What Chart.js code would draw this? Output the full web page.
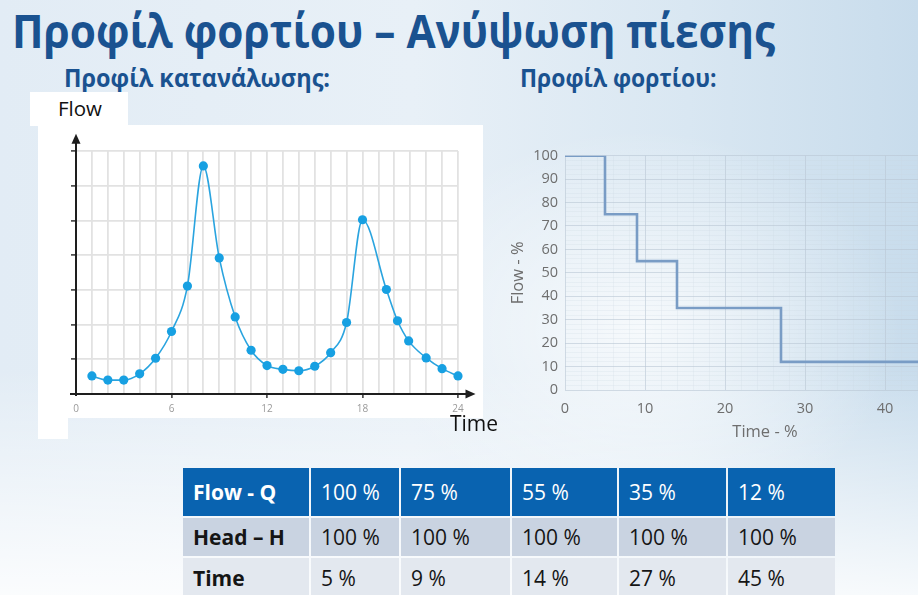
<!DOCTYPE html>
<html>
<head>
<meta charset="utf-8">
<script src="https://cdn.jsdelivr.net/npm/chart.js@4.4.1/dist/chart.umd.min.js"></script>
<style>
  html, body { margin: 0; padding: 0; }
  body {
    width: 918px; height: 595px; overflow: hidden; position: relative;
    font-family: "Open Sans", sans-serif;
    background:
      radial-gradient(ellipse 260px 200px at 640px 330px, rgba(255,255,255,0.75) 0%, rgba(255,255,255,0) 100%),
      linear-gradient(180deg, rgba(255,255,255,0) 0%, rgba(255,255,255,0) 62%, rgba(255,255,255,0.85) 100%),
      linear-gradient(90deg, #e2ecf5 0%, #e8f0f7 45%, #d9e7f2 75%, #c8dcec 100%);
  }
  .abs { position: absolute; white-space: nowrap; line-height: 1; }
  #title { left: 12px; top: 7px; font-size: 47px; font-weight: 700; color: #1a5290; transform-origin: 0 0; }
  .sub { top: 65px; font-size: 25px; font-weight: 700; color: #1a5290; transform-origin: 0 0; }
  #flowBox { position: absolute; left: 30px; top: 92px; width: 98px; height: 34px; background: #fff; }
  #panel { position: absolute; left: 38px; top: 125px; width: 445px; height: 293px; background: #fff; }
  #strip { position: absolute; left: 38px; top: 418px; width: 30px; height: 21px; background: #fff; }
  #flowLbl { left: 58px; top: 98px; font-size: 20.5px; color: #111; }
  #timeLbl { left: 450px; top: 413px; font-size: 21px; color: #111; }
  #c1 { position: absolute; left: 38px; top: 125px; }
  #c2 { position: absolute; left: 500px; top: 140px; }
  #tbl {
    position: absolute; left: 183px; top: 468px;
    display: grid; grid-template-columns: 126px 88px 109px 105px 107px 107px;
    grid-template-rows: 48px 38px 40px; gap: 2px;
    font-size: 21px;
  }
  #tbl div { display: flex; align-items: center; padding-left: 10px; white-space: nowrap; }
  #tbl .h { background: #0963b0; color: #fff; }
  #tbl .r2 { background: #c9d3e1; color: #151515; }
  #tbl .r3 { background: #e3e8ef; color: #151515; }
  #tbl .b { font-weight: 700; }
</style>
</head>
<body>
<div id="title" class="abs">Προφίλ φορτίου – Ανύψωση πίεσης</div>
<div id="sub1" class="abs sub" style="left:64px">Προφίλ κατανάλωσης:</div>
<div id="sub2" class="abs sub" style="left:520px">Προφίλ φορτίου:</div>

<div id="flowBox"></div>
<div id="panel"></div>
<div id="strip"></div>
<div id="flowLbl" class="abs">Flow</div>
<canvas id="c1" width="445" height="293"></canvas>
<div id="timeLbl" class="abs">Time</div>

<canvas id="c2" width="475" height="311"></canvas>

<div id="tbl"></div>

<script>
// consumption profile (left chart)
const hours = [1, 2, 3, 4, 5, 6, 7, 8, 9, 10, 11, 12, 13, 14, 15, 16, 17, 18, 19.5, 20.2, 20.9, 22, 23, 24];
const flowProfile = [0.52, 0.40, 0.40, 0.58, 1.03, 1.80, 3.11, 6.57, 3.92, 2.22, 1.26, 0.82, 0.71, 0.67, 0.80, 1.19, 2.06, 5.02, 3.01, 2.11, 1.53, 1.04, 0.73, 0.52];
const hourLabels = [0, 6, 12, 18, 24];

// load profile (right chart + table)
const flowPct = [100, 75, 55, 35, 12];
const headPct = [100, 100, 100, 100, 100];
const timePct = [5, 9, 14, 27, 45];

Chart.defaults.font.family = "'Open Sans', sans-serif";

function fit(id, w) {
  const el = document.getElementById(id);
  el.style.transform = 'scaleX(' + (w / el.offsetWidth) + ')';
}
fit('title', 763);
fit('sub1', 266);
fit('sub2', 197);

// table
const tbl = document.getElementById('tbl');
function row(label, vals, cls) {
  const c = document.createElement('div');
  c.className = cls + ' b';
  c.textContent = label;
  tbl.appendChild(c);
  vals.forEach(v => {
    const d = document.createElement('div');
    d.className = cls;
    d.textContent = v + ' %';
    tbl.appendChild(d);
  });
}
row('Flow - Q', flowPct, 'h');
row('Head – H', headPct, 'r2');
row('Time', timePct, 'r3');

// axes with arrows for the left chart
const axisArrows = {
  id: 'axisArrows',
  beforeDatasetsDraw(chart) {
    const { ctx, scales: { x, y } } = chart;
    const x0 = x.getPixelForValue(0), y0 = y.getPixelForValue(0);
    const xEnd = x.getPixelForValue(25.1), yEnd = y.getPixelForValue(7.5);
    ctx.save();
    ctx.strokeStyle = '#1e1e1e';
    ctx.fillStyle = '#1e1e1e';
    ctx.lineWidth = 2;
    ctx.beginPath();
    ctx.moveTo(x0 - 6, y0);
    ctx.lineTo(xEnd - 8, y0);
    ctx.moveTo(x0, y0 + 2);
    ctx.lineTo(x0, yEnd + 8);
    ctx.stroke();
    ctx.beginPath();
    ctx.moveTo(xEnd, y0);
    ctx.lineTo(xEnd - 10, y0 - 4.5);
    ctx.lineTo(xEnd - 10, y0 + 4.5);
    ctx.closePath();
    ctx.fill();
    ctx.beginPath();
    ctx.moveTo(x0, yEnd);
    ctx.lineTo(x0 - 4.5, yEnd + 10);
    ctx.lineTo(x0 + 4.5, yEnd + 10);
    ctx.closePath();
    ctx.fill();
    ctx.restore();
  }
};

new Chart(document.getElementById('c1'), {
  type: 'line',
  data: {
    datasets: [{
      data: hours.map((h, i) => ({ x: h, y: flowProfile[i] })),
      borderColor: '#2aa4df',
      backgroundColor: '#17a0e2',
      borderWidth: 1.6,
      pointRadius: 4.6,
      pointBorderWidth: 0,
      cubicInterpolationMode: 'monotone',
      clip: false
    }]
  },
  options: {
    responsive: false,
    animation: false,
    layout: { padding: { top: 26, right: 25, left: 0, bottom: 0 } },
    plugins: { legend: { display: false }, tooltip: { enabled: false } },
    scales: {
      x: {
        type: 'linear', min: 0, max: 24,
        border: { display: false },
        grid: {
          color: c => (c.tick && c.tick.value === 0) ? 'rgba(0,0,0,0)' : '#e2e2e2',
          lineWidth: 1.8,
          tickLength: 4,
          tickWidth: 1.5,
          tickColor: c => (c.tick && c.tick.value > 0 && hourLabels.includes(c.tick.value)) ? '#333' : 'rgba(0,0,0,0)'
        },
        ticks: {
          stepSize: 1, autoSkip: false, maxRotation: 0, padding: 5,
          color: '#9a9a9a', font: { size: 10 },
          callback: v => hourLabels.includes(v) ? v : ''
        },
        afterFit: s => { s.height = 24; }
      },
      y: {
        min: 0, max: 7,
        border: { display: false },
        grid: {
          color: c => (c.tick && c.tick.value === 0) ? 'rgba(0,0,0,0)' : '#e2e2e2',
          lineWidth: 1.8,
          tickLength: 5,
          tickWidth: 1.5,
          tickColor: c => (c.tick && c.tick.value === 0) ? 'rgba(0,0,0,0)' : '#333'
        },
        ticks: { stepSize: 1, display: false },
        afterFit: s => { s.width = 38; }
      }
    }
  },
  plugins: [axisArrows]
});

// load profile step chart
const stepPoints = [{ x: 0, y: flowPct[0] }].concat(
  timePct.map((t, i) => ({ x: t, y: i + 1 < flowPct.length ? flowPct[i + 1] : flowPct[i] }))
);

new Chart(document.getElementById('c2'), {
  type: 'line',
  data: {
    datasets: [{
      data: stepPoints,
      stepped: true,
      borderColor: '#799cc5',
      borderWidth: 2.6,
      pointRadius: 0
    }]
  },
  options: {
    responsive: false,
    animation: false,
    layout: { padding: { top: 14, right: 8, left: 0, bottom: 0 } },
    plugins: { legend: { display: false }, tooltip: { enabled: false } },
    scales: {
      x: {
        type: 'linear', min: 0, max: 50,
        border: { display: false },
        grid: {
          drawTicks: false,
          color: c => (c.tick && c.tick.value % 10 === 0) ? 'rgba(185,198,212,0.6)' : 'rgba(200,212,224,0.22)'
        },
        ticks: {
          stepSize: 2, autoSkip: false, maxRotation: 0, padding: 10,
          color: '#6e6e6e', font: { size: 14.5 },
          callback: v => (v % 10 === 0 && v < 50) ? v : ''
        },
        title: { display: true, text: 'Time - %', color: '#6e6e6e', font: { size: 16.5 }, padding: { top: 0, bottom: 9 } },
        afterFit: s => { s.height = 61; }
      },
      y: {
        min: 0, max: 100,
        border: { display: false },
        grid: {
          drawTicks: false,
          color: c => (c.tick && c.tick.value % 10 === 0) ? 'rgba(185,198,212,0.6)' : 'rgba(200,212,224,0.22)'
        },
        ticks: {
          stepSize: 2, autoSkip: false, padding: 7,
          color: '#6e6e6e', font: { size: 14.5 },
          callback: v => v % 10 === 0 ? v : ''
        },
        title: { display: true, text: 'Flow - %', color: '#6e6e6e', font: { size: 16.5 }, padding: { top: 8, bottom: 0 } },
        afterFit: s => { s.width = 65; }
      }
    }
  }
});
</script>
</body>
</html>
